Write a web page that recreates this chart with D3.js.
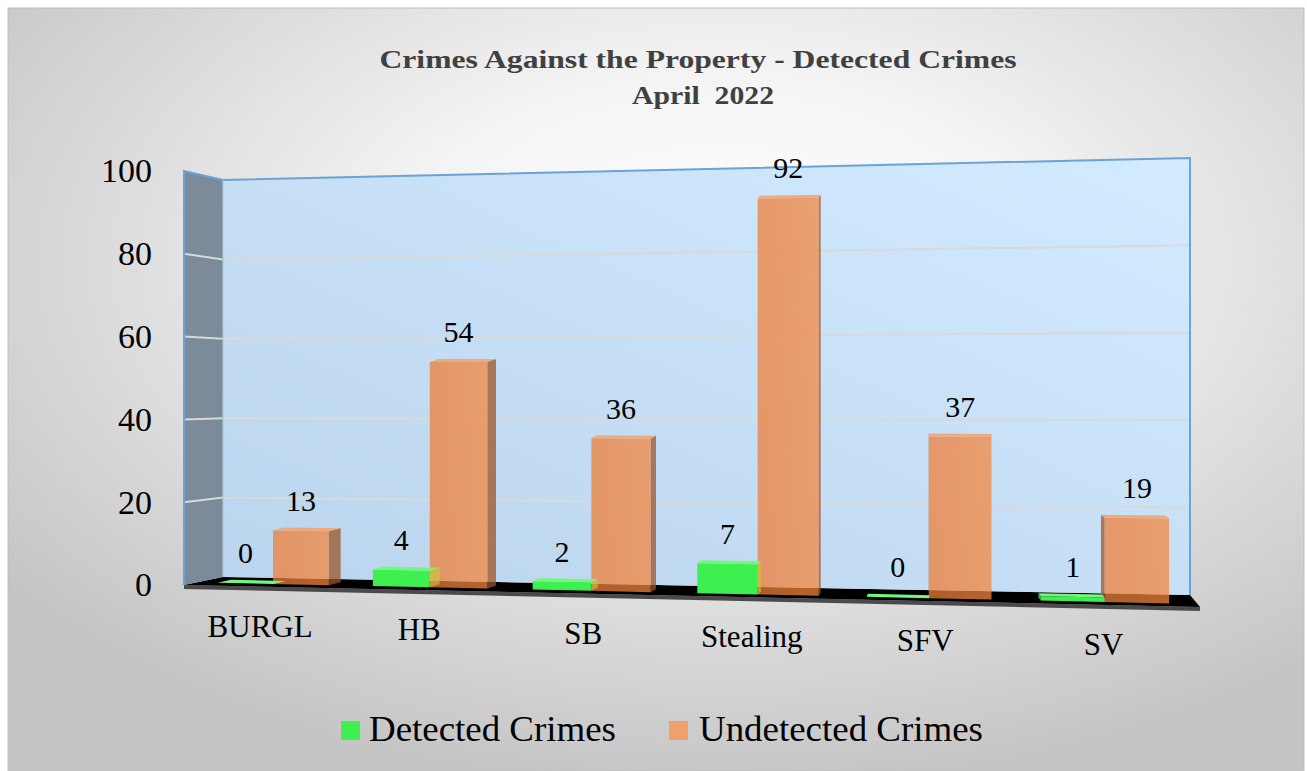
<!DOCTYPE html>
<html><head><meta charset="utf-8">
<script src="https://cdn.jsdelivr.net/npm/d3@7"></script>
<style>html,body{margin:0;padding:0;background:#fff;} svg{display:block;}</style>
</head><body>
<svg id="chart" width="1307" height="771"></svg>
<script>
// ---------- data ----------
const categories = ["BURGL","HB","SB","Stealing","SFV","SV"];
const seriesNames = ["Detected Crimes","Undetected Crimes"];
const detected = [0,4,2,7,0,1];
const undetected = [13,54,36,92,37,19];
const yTicks = [0,20,40,60,80,100];
const titleLines = ["Crimes Against the Property - Detected Crimes","April  2022"];

// ---------- layout / styles ----------
const FONT = "'Liberation Serif','Times New Roman',serif";
const seriesColors = {
  "Detected Crimes":   {front:"#3df04f", top:"#74f77e", sideR:"#c9c83a", sideL:"#2cb83a", op:1},
  "Undetected Crimes": {front:"#f2823a", top:"#f6a16a", sideR:"#9b5425", sideL:"#9b5425", op:0.74}
};
const FL = 184, BL = 223, BR = 1190, FR = 1200;   // floor/wall corners (x)

const svg = d3.select("#chart");
const defs = svg.append("defs");

const bg = defs.append("radialGradient").attr("id","bg")
  .attr("cx","0.55").attr("cy","0.33").attr("r","0.7");
bg.append("stop").attr("offset","0%").attr("stop-color","#ffffff");
bg.append("stop").attr("offset","35%").attr("stop-color","#f4f4f4");
bg.append("stop").attr("offset","100%").attr("stop-color","#c4c4c4");

const wg = defs.append("linearGradient").attr("id","wall")
  .attr("x1","0").attr("y1","1").attr("x2","1").attr("y2","0");
wg.append("stop").attr("offset","0%").attr("stop-color","#bad4ed");
wg.append("stop").attr("offset","100%").attr("stop-color","#d3ebff");

const og = defs.append("linearGradient").attr("id","orangeFront")
  .attr("x1","0").attr("y1","0").attr("x2","1").attr("y2","0");
og.append("stop").attr("offset","0%").attr("stop-color","#ee7e38");
og.append("stop").attr("offset","100%").attr("stop-color","#f4873e");

svg.append("rect").attr("x",8).attr("y",8).attr("width",1296).attr("height",763)
  .attr("fill","url(#bg)").attr("stroke","#bdbdbd").attr("stroke-width",1);

// ---------- perspective helpers ----------
const frontBase = x => 585 + (x - FL) * 0.0217;
const backBase  = x => 577 + (x - BL) * 0.0186;
const kFront = x => 4.14 + (x - FL) * 0.000387;
const kBack  = x => 3.97 + (x - BL) * 0.000414;
const kBar   = x => kFront(x) - 0.06;
const yFront = x => d3.scaleLinear().domain([0,100]).range([frontBase(x), frontBase(x) - 100*kFront(x)]);
const yBack  = x => d3.scaleLinear().domain([0,100]).range([backBase(x), backBase(x) - 100*kBack(x)]);
const yBar   = x => d3.scaleLinear().domain([0,100]).range([frontBase(x) - 3, frontBase(x) - 3 - 100*kBar(x)]);
const warpX = u => 196.4 + 912*u + 86*u*u;

const band = d3.scaleBand().domain(categories).range([0,1]).padding(0);
const sub = d3.scaleBand().domain(seriesNames).range([0, band.bandwidth()]).paddingInner(0).paddingOuter(0.39);

const line = d3.line();
const poly = pts => line(pts) + "Z";

// ---------- walls & floor ----------
const yMax = d3.max(yTicks);
svg.append("path").attr("d", poly([[FL,frontBase(FL)],[FR,frontBase(FR)],[FR,frontBase(FR)+4],[FL,frontBase(FL)+4]]))
  .attr("fill","#4a4a4a");
svg.append("path").attr("d", poly([[FL,frontBase(FL)],[BL,backBase(BL)],[BR,backBase(BR)],[FR,frontBase(FR)]]))
  .attr("fill","#000");
svg.append("path").attr("d", poly([[FL,yFront(FL)(yMax)],[BL,yBack(BL)(yMax)],[BL,backBase(BL)],[FL,frontBase(FL)]]))
  .attr("fill","#7b8b9a");
svg.append("path").attr("d", poly([[BL,yBack(BL)(yMax)],[BR,yBack(BR)(yMax)],[BR,backBase(BR)],[BL,backBase(BL)]]))
  .attr("fill","url(#wall)");

const grid = yTicks.filter(v => v > 0 && v < yMax);
svg.append("g").selectAll("path").data(grid).join("path")
  .attr("d", v => line([[FL,yFront(FL)(v)],[BL,yBack(BL)(v)],[BR,yBack(BR)(v)]]))
  .attr("fill","none").attr("stroke","#d9d9d9").attr("stroke-width",2);

svg.append("path").attr("d", line([[FL,frontBase(FL)],[FL,yFront(FL)(yMax)],[BL,yBack(BL)(yMax)],[BR,yBack(BR)(yMax)],[BR,backBase(BR)]]))
  .attr("fill","none").attr("stroke","#6aa3d8").attr("stroke-width",2);
svg.append("path").attr("d", line([[BL,yBack(BL)(yMax)],[BL,backBase(BL)]]))
  .attr("fill","none").attr("stroke","#a9c9e8").attr("stroke-width",1);

// ---------- axis ----------
const yAxis = d3.axisLeft(yFront(FL)).tickValues(yTicks).tickSize(0).tickPadding(32).tickFormat(d3.format("d"));
const ga = svg.append("g").attr("transform",`translate(${FL},0)`).call(yAxis);
ga.select(".domain").remove();
ga.selectAll("text").attr("font-family",FONT).attr("font-size",34).attr("fill","#000");

// ---------- bars ----------
const rows = [];
categories.forEach((c,i) => {
  [["Undetected Crimes", undetected[i]], ["Detected Crimes", detected[i]]].forEach(([s,v]) => {
    const u0 = band(c) + sub(s), u1 = u0 + sub.bandwidth();
    rows.push({c, s, v, x0: warpX(u0), x1: warpX(u1)});
  });
});
const DY = 3, VP = 920;
const gb = svg.append("g");
rows.forEach(r => {
  const col = seriesColors[r.s];
  const s0 = yBar(r.x0), s1 = yBar(r.x1);
  const b0 = s0(0), b1 = s1(0), t0 = s0(r.v), t1 = s1(r.v);
  let dx = (VP - r.x1) * 0.02;
  let side;
  if (dx > 0) {
    side = [[r.x1,t1],[r.x1+dx,t1-DY],[r.x1+dx,b1-DY],[r.x1,b1]];
  } else {
    dx = (VP - r.x0) * 0.02;
    side = [[r.x0,t0],[r.x0+dx,t0-DY],[r.x0+dx,b0-DY],[r.x0,b0]];
  }
  const isDet = r.s === "Detected Crimes";
  const g = gb.append("g");
  g.append("path").attr("d", poly(side))
    .attr("fill", dx > 0 ? col.sideR : col.sideL)
    .attr("opacity", isDet ? (dx > 0 ? 0.6 : 1) : col.op);
  g.append("path").attr("d", poly([[r.x0,b0],[r.x1,b1],[r.x1,t1],[r.x0,t0]]))
    .attr("fill", isDet ? col.front : "url(#orangeFront)").attr("opacity", col.op);
  g.append("path").attr("d", poly([[r.x0,t0],[r.x1,t1],[r.x1+dx,t1-DY],[r.x0+dx,t0-DY]]))
    .attr("fill", col.top).attr("opacity", isDet ? 1 : 0.85);
  const xc = (r.x0 + r.x1)/2;
  svg.append("text").attr("x", xc).attr("y", yBar(xc)(r.v) - 20)
    .attr("text-anchor","middle").attr("font-family",FONT).attr("font-size",30).attr("fill","#000")
    .text(r.v);
});

// ---------- category labels ----------
svg.append("g").selectAll("text").data(categories).join("text")
  .attr("x", c => { const u = band(c) + band.bandwidth()/2; return warpX(u) - 14*(1-u); })
  .attr("y", c => { const u = band(c) + band.bandwidth()/2; return frontBase(warpX(u)) + 50; })
  .attr("text-anchor","middle").attr("font-family",FONT).attr("font-size",31).attr("fill","#000")
  .text(c => c);

// ---------- title ----------
const titleLayout = [{x:698, y:68, len:637}, {x:703, y:104, len:142}];
svg.append("g").selectAll("text").data(titleLines).join("text")
  .attr("x", (d,i) => titleLayout[i].x).attr("y", (d,i) => titleLayout[i].y)
  .attr("text-anchor","middle").attr("font-family",FONT).attr("font-weight","bold")
  .attr("font-size",25).attr("fill","#404040").style("white-space","pre")
  .attr("textLength",(d,i)=>titleLayout[i].len).attr("lengthAdjust","spacingAndGlyphs")
  .text(d => d);

// ---------- legend ----------
const legendPos = [{sq:341, tx:369, len:247}, {sq:669, tx:699, len:284}];
const lg = svg.append("g").selectAll("g").data(seriesNames).join("g");
lg.append("rect").attr("x",(d,i)=>legendPos[i].sq).attr("y",721).attr("width",19).attr("height",19)
  .attr("fill", d => d === "Detected Crimes" ? "#3df04f" : "#f0a06a");
lg.append("text").attr("x",(d,i)=>legendPos[i].tx).attr("y",741)
  .attr("font-family",FONT).attr("font-size",36).attr("fill","#000")
  .attr("textLength",(d,i)=>legendPos[i].len).attr("lengthAdjust","spacingAndGlyphs")
  .text(d => d);
</script>
</body></html>
